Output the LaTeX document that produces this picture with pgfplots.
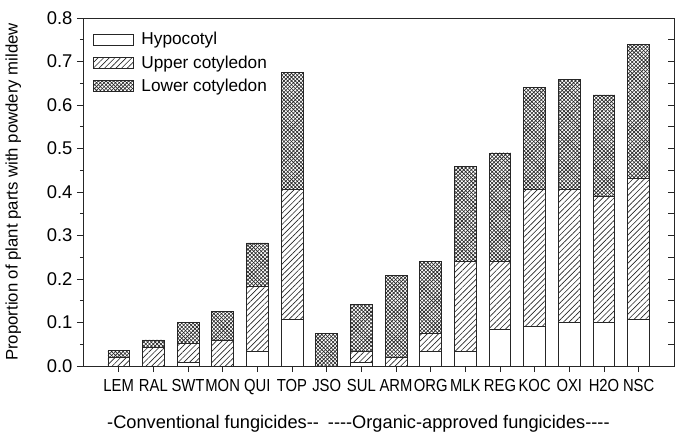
\documentclass[border=0pt]{standalone}
\usepackage{fontspec}
\setmainfont{Liberation Sans}
\newfontfamily\condfont{Liberation Sans}[FakeStretch=0.85]
\usepackage{pgfplots}
\usepackage{pgfplotstable}
\pgfplotsset{compat=1.18}
\usetikzlibrary{patterns,patterns.meta}

\pgfdeclarepatternformonly{dxhatch}{\pgfqpoint{-0.5pt}{-0.5pt}}{\pgfqpoint{4.5pt}{4.5pt}}{\pgfqpoint{3.8pt}{3.8pt}}{%
  \pgfsetlinewidth{0.6pt}%
  \pgfpathmoveto{\pgfqpoint{-0.2pt}{-0.2pt}}\pgfpathlineto{\pgfqpoint{4.0pt}{4.0pt}}%
  \pgfpathmoveto{\pgfqpoint{-0.2pt}{4.0pt}}\pgfpathlineto{\pgfqpoint{4.0pt}{-0.2pt}}%
  \pgfusepath{stroke}}

\pgfplotstableread{
x hyp upper lower
0  0.000 0.020 0.015
1  0.000 0.044 0.016
2  0.008 0.044 0.049
3  0.000 0.060 0.065
4  0.033 0.150 0.100
5  0.108 0.298 0.268
6  0.000 0.000 0.075
7  0.008 0.025 0.109
8  0.000 0.020 0.188
9  0.034 0.041 0.166
10 0.034 0.207 0.217
11 0.084 0.157 0.249
12 0.092 0.315 0.233
13 0.100 0.307 0.251
14 0.100 0.291 0.232
15 0.108 0.324 0.308
}\datatable

\begin{document}
\begin{tikzpicture}
\begin{axis}[name=main,
  scale only axis, width=591bp, height=348bp,
  xmin=-1.03, xmax=16.02, ymin=0, ymax=0.8,
  ybar stacked, bar width=21.7bp,
  axis line style={line width=0.8pt, black!85},
  xtick={0,...,15},
  xticklabels={LEM,RAL,SWT,MON,QUI,TOP,JSO,SUL,ARM,ORG,MLK,REG,KOC,OXI,H2O,NSC},
  xtick pos=bottom, ytick pos=left,
  tick align=outside,
  major tick length=6bp, minor tick length=3bp,
  ytick={0,0.1,0.2,0.3,0.4,0.5,0.6,0.7,0.8},
  minor ytick={0.05,0.15,0.25,0.35,0.45,0.55,0.65,0.75},
  tick style={line width=0.7pt, black!85},
  yticklabel style={/pgf/number format/.cd, fixed, fixed zerofill, precision=1, assume math mode=true, /tikz/.cd, font=\fontsize{18.5}{18.5}\selectfont, xshift=-1bp},
  xticklabel style={font=\condfont\fontsize{17.5}{18}\selectfont, yshift=-3.5bp},
  ylabel={Proportion of plant parts with powdery mildew},
  every axis y label/.append style={at={(axis description cs:-0.118,0.5)}, anchor=center, font=\fontsize{16.8}{16.8}\selectfont},
  legend style={at={(axis description cs:0.017,0.965)}, anchor=north west, draw=none, fill=none,
    font=\fontsize{17.3}{17.3}\selectfont, row sep=5.5bp, inner sep=0pt,
    nodes={inner xsep=7.5bp}},
  legend cell align=left,
  legend image code/.code={\draw[#1,/tikz/.cd] (0bp,-5.5bp) rectangle (40bp,5.5bp);},
  every axis plot/.append style={draw=black!85, line width=0.7pt},
]
\addplot[fill=white] table[x=x,y=hyp]{\datatable};
\addplot[pattern={Lines[angle=45,distance=4bp,line width=0.65bp]}, pattern color=black!85] table[x=x,y=upper]{\datatable};
\addplot[pattern=dxhatch, pattern color=black!85] table[x=x,y=lower]{\datatable};
\legend{Hypocotyl,Upper cotyledon,Lower cotyledon}
\end{axis}
\begin{axis}[
  scale only axis, width=591bp, height=348bp,
  xmin=-1.03, xmax=16.02, ymin=0, ymax=0.8,
  axis line style={draw=none},
  xtick=\empty, ytick pos=right, tick align=inside,
  ytick={0,0.05,...,0.8}, yticklabels={},
  major tick length=6.5bp,
  tick style={line width=0.7pt, black!85},
]
\end{axis}
\node[anchor=base west, font=\fontsize{18.3}{18.3}\selectfont, inner sep=0pt] at (24bp,-62bp)
  {\mbox{-}Conventional fungicides\mbox{-}\mbox{-}\hspace{9bp}\mbox{-}\mbox{-}\mbox{-}\mbox{-}Organic\mbox{-}approved fungicides\mbox{-}\mbox{-}\mbox{-}\mbox{-}};
\pgfresetboundingbox
\path[use as bounding box] (-83bp,-67bp) rectangle (601bp,366bp);
\end{tikzpicture}
\end{document}
